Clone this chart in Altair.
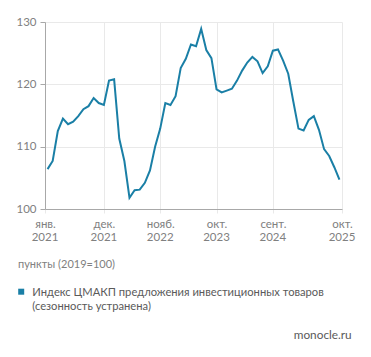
import altair as alt
import pandas as pd

# Monthly index values, Jan 2021 .. Oct 2025
v2021 = [106.4, 107.7, 112.5, 114.5, 113.6, 114.0, 114.9, 116.0, 116.5, 117.8, 117.0, 116.7]
v2022 = [120.6, 120.8, 111.3, 107.7, 101.8, 103.0, 103.1, 104.2, 106.2, 110.0, 112.9, 117.0]
v2023 = [116.7, 118.1, 122.6, 124.1, 126.4, 126.1, 128.9, 125.5, 124.2, 119.2, 118.7, 119.0]
v2024 = [119.3, 120.6, 122.2, 123.5, 124.4, 123.7, 121.8, 122.9, 125.4, 125.6, 123.8, 121.7]
v2025 = [117.2, 112.9, 112.6, 114.3, 114.9, 112.7, 109.6, 108.5, 106.7, 104.7]

values = v2021 + v2022 + v2023 + v2024 + v2025
month_index = list(range(len(values)))

tick_pos = [-0.5, 11, 22, 33, 44, 57.5]
tick_month = ["янв.", "дек.", "нояб.", "окт.", "сент.", "окт."]
tick_year = ["2021", "2021", "2022", "2023", "2024", "2025"]
y_ticks = [100, 110, 120, 130]

unit_text = "пункты (2019=100)"
legend_line1 = "Индекс ЦМАКП предложения инвестиционных товаров"
legend_line2 = "(сезонность устранена)"
source_text = "monocle.ru"

df = pd.DataFrame({"i": month_index, "v": values})
ticks_df = pd.DataFrame({"i": tick_pos, "year": tick_year})

# label expression mapping tick positions to month labels
expr = ""
for p, m in zip(tick_pos, tick_month):
    expr += f"abs(datum.value - ({p})) < 0.01 ? '{m}' : "
expr += "''"

FONT = "Lato"
LINE_COLOR = "#1a7fa6"
LABEL_COLOR = "#808080"
TEXT_COLOR = "#5a5a5a"
GRID = "#e9e9e9"
DOMAIN = "#a8a8a8"
AXIS_FS = 11.5

x_scale = alt.Scale(domain=[-0.5, 57.5], nice=False, zero=False)

line = alt.Chart(df).mark_line(color=LINE_COLOR, strokeWidth=2).encode(
    x=alt.X(
        "i:Q",
        scale=x_scale,
        axis=alt.Axis(
            values=tick_pos,
            labelExpr=expr,
            title=None,
            grid=True,
            gridColor=GRID,
            domainColor=DOMAIN,
            tickColor=GRID,
            tickSize=4,
            labelPadding=5,
            labelColor=LABEL_COLOR,
            labelFont=FONT,
            labelFontSize=AXIS_FS,
            labelFlush=False,
            labelOverlap=False,
        ),
    ),
    y=alt.Y(
        "v:Q",
        scale=alt.Scale(domain=[100, 130], nice=False, zero=False),
        axis=alt.Axis(
            values=y_ticks,
            title=None,
            grid=True,
            gridColor=GRID,
            domainColor=DOMAIN,
            tickColor=DOMAIN,
            tickSize=5,
            labelPadding=4,
            labelColor=LABEL_COLOR,
            labelFont=FONT,
            labelFontSize=AXIS_FS,
        ),
    ),
)

years = alt.Chart(ticks_df).mark_text(
    baseline="middle", align="center", font=FONT, fontSize=AXIS_FS, color=LABEL_COLOR
).encode(x=alt.X("i:Q", scale=x_scale), y=alt.value(215.7), text="year:N")

one = pd.DataFrame({"k": [0]})

unit = alt.Chart(one).mark_text(
    text=unit_text, align="left", baseline="middle", font=FONT, fontSize=11, color=LABEL_COLOR
).encode(x=alt.value(-27), y=alt.value(243))

square = alt.Chart(one).mark_square(color=LINE_COLOR, size=36, opacity=1).encode(
    x=alt.value(-23.8), y=alt.value(269.7)
)

leg1 = alt.Chart(one).mark_text(
    text=legend_line1, align="left", baseline="middle", font=FONT, fontSize=11.2, color=TEXT_COLOR
).encode(x=alt.value(-12.7), y=alt.value(271.3))

leg2 = alt.Chart(one).mark_text(
    text=legend_line2, align="left", baseline="middle", font=FONT, fontSize=11.2, color=TEXT_COLOR
).encode(x=alt.value(-12.7), y=alt.value(285.3))

src = alt.Chart(one).mark_text(
    text=source_text, align="right", baseline="middle", font=FONT, fontSize=11.8, color=TEXT_COLOR
).encode(x=alt.value(306.7), y=alt.value(313))

chart = (
    alt.layer(line, years, unit, square, leg1, leg2, src)
    .properties(
        width=297,
        height=187,
        autosize=alt.AutoSizeParams(type="none"),
        padding={"left": 37, "top": 14, "right": 21, "bottom": 140},
        background="white",
    )
    .configure_view(stroke=None)
)

chart.save("out.html", embed_options={"renderer": "svg", "actions": False})
